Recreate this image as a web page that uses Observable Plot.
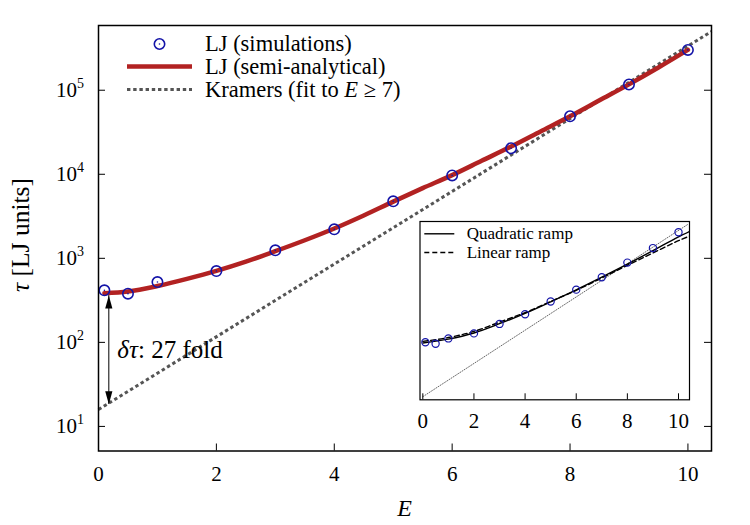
<!DOCTYPE html>
<html><head><meta charset="utf-8">
<script src="https://cdn.jsdelivr.net/npm/d3@7"></script>
<script src="https://cdn.jsdelivr.net/npm/@observablehq/plot@0.6"></script>
<style>
body{margin:0;background:#fff;}
#wrap{position:relative;width:750px;height:525px;overflow:hidden;}
#inset{position:absolute;left:400px;top:205px;}
</style></head><body><div id="wrap"><div id="main"></div><div id="inset"></div></div>
<script>
const FONT = "'Liberation Serif', 'Times New Roman', serif";

// ---- data ----
const simE   = [0.1, 0.5, 1, 2, 3, 4, 5, 6, 7, 8, 9, 10];
const simTau = [416, 380, 522, 706, 1245, 2214, 4770, 9700, 20400, 49000, 117000, 302000];

const semiE   = [0.1, 0.5, 1, 1.5, 2, 2.5, 3, 3.5, 4, 4.5, 5, 5.5, 6, 6.5, 7, 7.5, 8, 8.5, 9, 9.5, 10];
const semiTau = [385, 403, 468, 569, 708, 912, 1216, 1641, 2265, 3236, 4732, 6839, 9772, 14454, 21380, 32359, 48978, 75858, 117490, 186209, 302000];

const kramersE   = [0, 10.4];
const kramersTau = [15.9, 501000];

const quadE   = [0, 1, 2, 3, 4, 5, 6, 7, 8, 9, 10, 10.43];
const quadTau = [398, 501, 724, 1259, 2344, 4677, 9550, 20417, 44668, 100000, 229087, 316228];
const linE    = [0, 1, 2, 3, 4, 5, 6, 7, 8, 9, 10, 10.43];
const linTau  = [437, 550, 794, 1380, 2455, 4786, 9333, 19498, 41687, 87096, 181970, 239883];

const arrowE = [0.175];
const arrowTop = [360];
const arrowBottom = [18.3];

const annotE = [0.32];
const annotTau = [82];
const annotText = ["δτ: 27 fold"];

const xTicks = [0, 2, 4, 6, 8, 10];
const yTicks = [10, 100, 1000, 10000, 100000];

const legendLabels = ["LJ (simulations)", "LJ (semi-analytical)", "Kramers (fit to E ≥ 7)"];
const insetLegendLabels = ["Quadratic ramp", "Linear ramp"];
const xLabel = "E";
const yLabel = "τ [LJ units]";

// ---- tables ----
const sim = simE.map((e, i) => ({e, t: simTau[i]}));
const semi = semiE.map((e, i) => ({e, t: semiTau[i]}));
const kramers = kramersE.map((e, i) => ({e, t: kramersTau[i]}));
const quad = quadE.map((e, i) => ({e, t: quadTau[i]}));
const lin = linE.map((e, i) => ({e, t: linTau[i]}));
const arrow = arrowE.map((e, i) => ({e, top: arrowTop[i], bottom: arrowBottom[i]}));
const annot = annotE.map((e, i) => ({e, t: annotTau[i], s: annotText[i]}));

const BLUE = "#1414a8", RED = "#b22222", GRAY = "#555555";
const DASH = "3.4,2.8";
const W = 750, H = 525, mL = 98, mR = 39, mT = 25, mB = 74.5;
const fw = W - mL - mR, fh = H - mT - mB;

const head = {draw(ctx) { ctx.moveTo(0, 0); ctx.lineTo(-3.6, 13); ctx.lineTo(3.6, 13); ctx.closePath(); }};

const main = Plot.plot({
  width: W, height: H, marginLeft: mL, marginRight: mR, marginTop: mT, marginBottom: mB,
  style: {fontFamily: FONT, fontSize: "21px", background: "white", color: "black", overflow: "visible"},
  x: {domain: [0, 10.4]},
  y: {type: "log", domain: [5.1, 5.89e5]},
  marks: [
    Plot.line(kramers, {x: "e", y: "t", stroke: GRAY, strokeWidth: 3, strokeDasharray: DASH, strokeLinecap: "butt"}),
    Plot.line(semi, {x: "e", y: "t", stroke: RED, strokeWidth: 4.5, curve: "monotone-x"}),
    Plot.dot(sim, {x: "e", y: "t", r: 5.2, stroke: BLUE, strokeWidth: 1.6, fill: "none"}),
    Plot.dot(sim, {x: "e", y: "t", r: 0.8, fill: BLUE}),
    Plot.ruleX(arrow, {x: "e", y1: "top", y2: "bottom", stroke: "black", strokeWidth: 1}),
    Plot.dot(arrow, {x: "e", y: "top", symbol: head, fill: "black", stroke: "none"}),
    Plot.dot(arrow, {x: "e", y: "bottom", symbol: head, rotate: 180, fill: "black", stroke: "none"}),
    Plot.text(annot, {x: "e", y: "t", text: "s", textAnchor: "start", fontSize: 25}),
    Plot.tickX(xTicks, {x: d => d, insetTop: fh - 7, strokeWidth: 1}),
    Plot.tickY(yTicks, {y: d => d, insetRight: fw - 7, strokeWidth: 1}),
    Plot.tickY(yTicks, {y: d => d, insetLeft: fw - 7, strokeWidth: 1}),
    Plot.axisX({ticks: xTicks, tickSize: 0, tickPadding: 15.5, label: null, tickFormat: d => String(d)}),
    Plot.axisY({ticks: yTicks, tickSize: 0, tickPadding: 14.5, label: null, tickFormat: d => "10^" + Math.round(Math.log10(d))}),
    Plot.frame({strokeWidth: 1.5})
  ]
});
document.getElementById("main").appendChild(main);

const inset = Plot.plot({
  width: 300, height: 230, marginLeft: 19.5, marginRight: 11, marginTop: 16, marginBottom: 35.7,
  style: {fontFamily: FONT, fontSize: "21px", background: "transparent", color: "black", overflow: "visible"},
  x: {domain: [-0.11, 10.43]},
  y: {type: "log", domain: [13.2, 5.75e5], axis: null},
  marks: [
    Plot.frame({fill: "white", stroke: "none"}),
    Plot.line(kramers, {x: "e", y: "t", stroke: GRAY, strokeWidth: 0.9, strokeDasharray: "1,1.6", clip: true}),
    Plot.line(quad, {x: "e", y: "t", stroke: "black", strokeWidth: 1.4, curve: "monotone-x", clip: true}),
    Plot.line(lin, {x: "e", y: "t", stroke: "black", strokeWidth: 1.4, strokeDasharray: "5,3", curve: "monotone-x", clip: true}),
    Plot.dot(sim, {x: "e", y: "t", r: 3.6, stroke: BLUE, strokeWidth: 1.2, fill: "none"}),
    Plot.tickX(xTicks, {x: d => d, insetTop: (230 - 16 - 35.7) - 6, strokeWidth: 1}),
    Plot.axisX({ticks: xTicks, tickSize: 0, tickPadding: 13.7, label: null, tickFormat: d => String(d)}),
    Plot.frame({strokeWidth: 1.2})
  ]
});
document.getElementById("inset").appendChild(inset);

// ---- rich text (superscripts / italics) ----
const NS = "http://www.w3.org/2000/svg";
function rich(t, parts) {
  t.textContent = "";
  for (const [s, opt] of parts) {
    const ts = document.createElementNS(NS, "tspan");
    ts.textContent = s;
    if (opt && opt.italic) ts.setAttribute("font-style", "italic");
    if (opt && opt.dy != null) ts.setAttribute("dy", opt.dy);
    if (opt && opt.size) ts.setAttribute("font-size", opt.size);
    t.appendChild(ts);
  }
}
main.querySelectorAll("text").forEach(t => {
  const s = t.textContent;
  if (/^10\^\d$/.test(s)) {
    const [b, e] = s.split("^");
    rich(t, [[b], [e, {dy: -9, size: 14}]]);
  } else if (s === annotText[0]) {
    rich(t, [["δτ", {italic: true}], [": 27 fold"]]);
  }
});

// ---- axis titles ----
const ms = d3.select(main);
const tg = ms.append("g").attr("font-family", FONT).attr("fill", "black");
tg.append("text").attr("x", (mL + W - mR) / 2).attr("y", 508.5).attr("dy", "0.32em").attr("text-anchor", "middle")
  .attr("font-size", 24).attr("font-style", "italic").text(xLabel);
const yl = tg.append("text").attr("transform", "translate(21,292) rotate(-90)").attr("dy", "0.32em")
  .attr("text-anchor", "start").attr("font-size", 25.5).node();
rich(yl, [["τ", {italic: true}], [" [LJ units]"]]);

// ---- legends ----
const lg = ms.append("g").attr("font-family", FONT).attr("font-size", 22.5).attr("fill", "black").attr("text-anchor", "start");
const rows = [44, 66.5, 89.5];
lg.append("circle").attr("cx", 159.5).attr("cy", rows[0]).attr("r", 5.2).attr("fill", "none").attr("stroke", BLUE).attr("stroke-width", 1.6);
lg.append("circle").attr("cx", 159.5).attr("cy", rows[0]).attr("r", 0.8).attr("fill", BLUE);
lg.append("line").attr("x1", 127).attr("x2", 192).attr("y1", rows[1]).attr("y2", rows[1]).attr("stroke", RED).attr("stroke-width", 4.5);
lg.append("line").attr("x1", 127).attr("x2", 192).attr("y1", rows[2]).attr("y2", rows[2]).attr("stroke", GRAY).attr("stroke-width", 3).attr("stroke-dasharray", DASH);
legendLabels.forEach((lab, i) => {
  const t = lg.append("text").attr("x", 205).attr("y", rows[i]).attr("dy", "0.32em").node();
  if (i === 2) rich(t, [["Kramers (fit to "], ["E", {italic: true}], [" ≥ 7)"]]);
  else t.textContent = lab;
});

const is = d3.select(inset);
const ilg = is.append("g").attr("font-family", FONT).attr("font-size", 17).attr("fill", "black").attr("text-anchor", "start");
const irows = [28.8, 47.5];
ilg.append("line").attr("x1", 24.3).attr("x2", 54.3).attr("y1", irows[0]).attr("y2", irows[0]).attr("stroke", "black").attr("stroke-width", 1.4);
ilg.append("line").attr("x1", 24.3).attr("x2", 54.3).attr("y1", irows[1]).attr("y2", irows[1]).attr("stroke", "black").attr("stroke-width", 1.4).attr("stroke-dasharray", "5,3");
insetLegendLabels.forEach((lab, i) => {
  ilg.append("text").attr("x", 66.7).attr("y", irows[i]).attr("dy", "0.32em").text(lab);
});
</script>
</body></html>
